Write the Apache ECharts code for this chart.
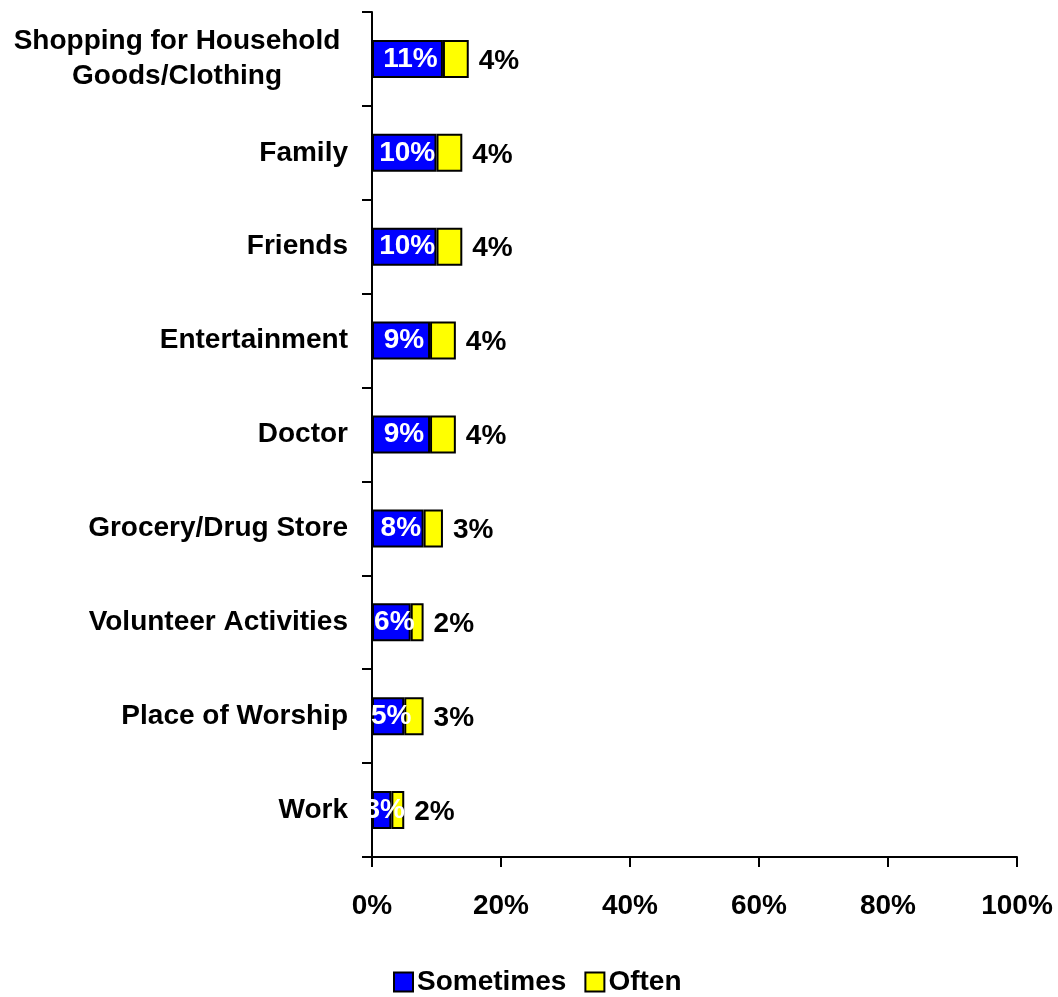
<!DOCTYPE html>
<html>
<head>
<meta charset="utf-8">
<script src="https://cdn.jsdelivr.net/npm/echarts@6/dist/echarts.min.js"></script>
<style>
  html, body { margin: 0; padding: 0; background: #fff; }
  #chart { width: 1058px; height: 997px; }
</style>
</head>
<body>
<div id="chart"></div>
<script>
// Places listed top to bottom
const categories = [
  'Shopping for Household\nGoods/Clothing',
  'Family',
  'Friends',
  'Entertainment',
  'Doctor',
  'Grocery/Drug Store',
  'Volunteer Activities',
  'Place of Worship',
  'Work'
];
const sometimes = [11, 10, 10, 9, 9, 8, 6, 5, 3];
const often = [4, 4, 4, 4, 4, 3, 2, 3, 2];
const xTicks = [0, 20, 40, 60, 80, 100];

const FONT = '"Liberation Sans", Arial, sans-serif';
const FS = 28;
const chart = echarts.init(document.getElementById('chart'));

chart.setOption({
  animation: false,
  backgroundColor: '#ffffff',
  textStyle: { fontFamily: FONT },
  grid: { left: 372, right: 41, top: 12, bottom: 140, containLabel: false },
  legend: {
    top: 968,
    left: 393,
    padding: 0,
    icon: 'rect',
    itemWidth: 19,
    itemHeight: 19,
    itemGap: 18,
    textStyle: { fontFamily: FONT, fontWeight: 'bold', fontSize: FS, color: '#000', padding: [0, 0, 0, -1] },
    data: ['Sometimes', 'Often']
  },
  xAxis: {
    type: 'value',
    min: xTicks[0],
    max: xTicks[xTicks.length - 1],
    interval: 20,
    splitLine: { show: false },
    axisLine: { show: true, lineStyle: { color: '#000', width: 2 } },
    axisTick: { show: true, length: 10, lineStyle: { color: '#000', width: 2 } },
    axisLabel: {
      margin: 35,
      fontFamily: FONT, fontWeight: 'bold', fontSize: FS, color: '#000',
      formatter: v => v + '%'
    }
  },
  yAxis: {
    type: 'category',
    inverse: true,
    data: categories,
    axisLine: { show: true, lineStyle: { color: '#000', width: 2 } },
    axisTick: { show: true, length: 10, lineStyle: { color: '#000', width: 2 } },
    axisLabel: {
      margin: 24,
      fontFamily: FONT, fontWeight: 'bold', fontSize: FS, color: '#000', lineHeight: 35,
      formatter: v => v.indexOf('\n') >= 0
        ? v.split('\n').map(s => '{c|' + s + '}').join('\n')
        : v,
      rich: {
        c: { width: 342, align: 'center', fontFamily: FONT, fontWeight: 'bold', fontSize: FS, color: '#000', lineHeight: 35 }
      }
    }
  },
  series: [
    {
      name: 'Sometimes',
      type: 'bar',
      stack: 'total',
      barWidth: 38,
      data: sometimes,
      itemStyle: { color: '#0000ff', borderColor: '#000', borderWidth: 2 },
      label: {
        show: true,
        position: 'inside',
        offset: [3, 0],
        color: '#fff',
        fontFamily: FONT, fontWeight: 'bold', fontSize: FS,
        formatter: p => p.value + '%'
      }
    },
    {
      name: 'Often',
      type: 'bar',
      stack: 'total',
      barWidth: 38,
      data: often,
      itemStyle: { color: '#ffff00', borderColor: '#000', borderWidth: 2 },
      label: {
        show: true,
        position: 'right',
        distance: 10,
        offset: [0, 2],
        color: '#000',
        fontFamily: FONT, fontWeight: 'bold', fontSize: FS,
        formatter: p => p.value + '%'
      }
    }
  ]
});
</script>
</body>
</html>
